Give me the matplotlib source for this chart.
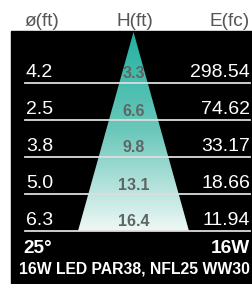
import matplotlib.pyplot as plt
import numpy as np
from matplotlib.patches import Polygon, Rectangle
from matplotlib.colors import LinearSegmentedColormap

# beam data
diametre = ["4.2", "2.5", "3.8", "5.0", "6.3"]
hauteur = ["3.3", "6.6", "9.8", "13.1", "16.4"]
eclairement = ["298.54", "74.62", "33.17", "18.66", "11.94"]
entetes = ["ø(ft)", "H(ft)", "E(fc)"]
angle = "25°"
puissance = "16W"
titre = "16W LED PAR38, NFL25 WW30"

W, H = 253, 284
fig = plt.figure(figsize=(W / 100, H / 100), dpi=100)
ax = fig.add_axes([0, 0, 1, 1])
ax.set_xlim(0, W)
ax.set_ylim(H, 0)
ax.axis("off")

def pt(px):
    return px * 72 / 100

font = ["Liberation Sans", "DejaVu Sans"]
narrow = ["Liberation Sans Narrow", "Liberation Sans", "DejaVu Sans"]

# fond noir
ax.add_patch(Rectangle((11, 31), W - 11, 252, color="black", zorder=0))

# cône de lumière en dégradé
y0, y1 = 32, 231
cx = 133.5
tri = Polygon([(cx, y0), (78, y1), (189, y1)], closed=True, facecolor="none", edgecolor="none")
ax.add_patch(tri)
cmap = LinearSegmentedColormap.from_list("cone", ["#22b2a0", "#6cc8bb", "#eef8f6"])
grad = np.linspace(0, 1, 256).reshape(-1, 1)
im = ax.imshow(grad, cmap=cmap, extent=(78, 189, y1, y0), aspect="auto", zorder=1)
im.set_clip_path(tri)

# en-têtes
for x, t in zip([42, 135, 230], entetes):
    ax.text(x, 26, t, ha="center", va="baseline", color="#555555",
            fontsize=pt(19), family=font)

# lignes du tableau
n = len(diametre)
for i in range(n):
    yl = 83 + 37 * i
    ax.plot([25, 250], [yl, yl], color="#dddddd", lw=1.3, zorder=2)
    ax.text(26, yl - 6, diametre[i], ha="left", va="baseline", color="white",
            fontsize=pt(19.5), family=font, zorder=3)
    ax.text(250, yl - 6, eclairement[i], ha="right", va="baseline", color="white",
            fontsize=pt(19.5), family=font, zorder=3)
    ax.text(cx, yl - 4.5, hauteur[i], ha="center", va="baseline", color="#5e6664",
            fontsize=pt(16), family=narrow, weight="bold", zorder=3)

# bas
ax.text(23, 253, angle, ha="left", va="baseline", color="white",
        fontsize=pt(19), family=font, weight="bold")
ax.text(250, 253, puissance, ha="right", va="baseline", color="white",
        fontsize=pt(19), family=font, weight="bold")
ax.text(134, 273, titre, ha="center", va="baseline", color="white",
        fontsize=pt(15.7), family=font, weight="bold")

fig.savefig("out.png", dpi=100, facecolor="white")
